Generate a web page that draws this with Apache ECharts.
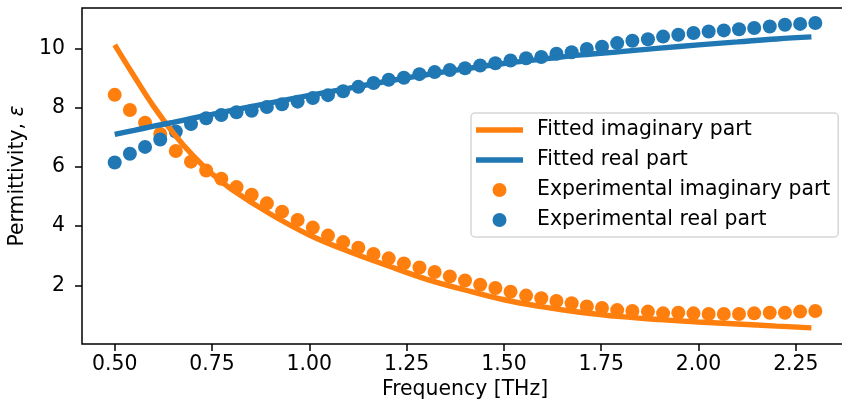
<!DOCTYPE html>
<html><head><meta charset="utf-8">
<script src="https://cdn.jsdelivr.net/npm/echarts@6/dist/echarts.min.js"></script>
<style>html,body{margin:0;padding:0;background:#fff}#c{width:842px;height:405px}</style>
</head><body><div id="c"></div>
<script>
// Experimental data (frequency in THz)
const freq = [0.500,0.539,0.578,0.617,0.657,0.696,0.735,0.774,0.813,0.852,0.891,0.930,0.970,1.009,1.048,1.087,1.126,1.165,1.204,1.243,1.283,1.322,1.361,1.400,1.439,1.478,1.517,1.557,1.596,1.635,1.674,1.713,1.752,1.791,1.830,1.870,1.909,1.948,1.987,2.026,2.065,2.104,2.143,2.183,2.222,2.261,2.300];
const expImag = [8.44,7.93,7.50,7.12,6.54,6.18,5.88,5.60,5.32,5.06,4.77,4.49,4.21,3.95,3.68,3.46,3.27,3.06,2.91,2.74,2.60,2.45,2.30,2.16,2.02,1.91,1.78,1.65,1.56,1.47,1.39,1.28,1.23,1.16,1.13,1.11,1.05,1.07,1.05,1.03,1.03,1.03,1.05,1.07,1.07,1.11,1.13];
const expReal = [6.15,6.45,6.68,6.93,7.20,7.45,7.65,7.76,7.85,7.90,8.03,8.12,8.21,8.33,8.43,8.56,8.71,8.84,8.95,9.02,9.14,9.21,9.28,9.34,9.43,9.51,9.60,9.68,9.72,9.83,9.88,9.99,10.07,10.19,10.27,10.32,10.41,10.47,10.53,10.58,10.62,10.66,10.70,10.75,10.81,10.84,10.87];
// Fitted model curves
const fitFreq = [0.50,0.55,0.60,0.65,0.70,0.75,0.80,0.90,1.00,1.10,1.20,1.30,1.40,1.50,1.60,1.70,1.80,1.90,2.00,2.10,2.20,2.29];
const fitImag = [10.13,9.07,8.05,7.16,6.40,5.77,5.25,4.41,3.70,3.15,2.67,2.21,1.84,1.51,1.27,1.08,0.94,0.84,0.76,0.69,0.62,0.56];
const fitReal = [7.10,7.24,7.38,7.51,7.65,7.78,7.91,8.17,8.42,8.66,8.90,9.12,9.32,9.50,9.65,9.79,9.90,10.02,10.13,10.23,10.33,10.40];
const xTicks = [0.50,0.75,1.00,1.25,1.50,1.75,2.00,2.25];
const yTicks = [2,4,6,8,10];

const ORANGE = '#ff7f0e', BLUE = '#1f77b4';
const FONT = 'DejaVu Sans';
const FS = 20.4;
const zip = (a, b) => a.map((v, i) => [v, b[i]]);
const LINE_ICON = 'path://M0,0L47,0L47,5.4L0,5.4Z';

const chart = echarts.init(document.getElementById('c'), null, {renderer: 'canvas'});
chart.setOption({
  animation: false,
  backgroundColor: '#fff',
  textStyle: {fontFamily: FONT},
  grid: {left: 82, top: 8, width: 766, height: 336, outerBoundsMode: 'none', containLabel: false, show: true, borderColor: '#000', borderWidth: 1.5, backgroundColor: 'transparent'},
  xAxis: {
    type: 'value', min: 0.416, max: 2.384,
    name: 'Frequency [THz]', nameLocation: 'middle', nameGap: 35,
    nameTextStyle: {fontFamily: FONT, fontSize: FS, color: '#000'},
    axisLine: {show: false},
    splitLine: {show: false},
    axisTick: {show: true, length: 7, customValues: xTicks, lineStyle: {color: '#000', width: 1.5}},
    axisLabel: {customValues: xTicks, margin: 11, fontFamily: FONT, fontSize: FS, color: '#000', formatter: v => v.toFixed(2)}
  },
  yAxis: {
    type: 'value', min: 0.014, max: 11.377,
    name: 'Permittivity, {i|\u03B5}', nameLocation: 'middle', nameGap: 50, nameRotate: 90,
    nameTextStyle: {fontFamily: FONT, fontSize: FS, color: '#000', rich: {i: {fontFamily: FONT, fontSize: FS, fontStyle: 'italic', color: '#000'}}},
    axisLine: {show: false},
    splitLine: {show: false},
    axisTick: {show: true, length: 7, customValues: yTicks, lineStyle: {color: '#000', width: 1.5}},
    axisLabel: {customValues: yTicks, margin: 17, fontFamily: FONT, fontSize: FS, color: '#000', formatter: v => String(v)}
  },
  legend: {
    orient: 'vertical', left: 471, top: 113, align: 'left',
    padding: [7, 8, 7, 5],
    itemWidth: 47, itemHeight: 14, itemGap: 10,
    symbolKeepAspect: true,
    backgroundColor: 'rgba(255,255,255,0.8)', borderColor: '#d6d6d6', borderWidth: 1.5, borderRadius: 4,
    textStyle: {fontFamily: FONT, fontSize: FS, color: '#000', lineHeight: 20, padding: [0, 0, 0, 9]},
    data: [
      {name: 'Fitted imaginary part', icon: LINE_ICON, itemStyle: {color: ORANGE}},
      {name: 'Fitted real part', icon: LINE_ICON, itemStyle: {color: BLUE}},
      {name: 'Experimental imaginary part', icon: 'circle'},
      {name: 'Experimental real part', icon: 'circle'}
    ]
  },
  series: [
    {name: 'Experimental imaginary part', type: 'scatter', data: zip(freq, expImag), symbol: 'circle', symbolSize: 14, itemStyle: {color: ORANGE, opacity: 1}},
    {name: 'Experimental real part', type: 'scatter', data: zip(freq, expReal), symbol: 'circle', symbolSize: 14, itemStyle: {color: BLUE, opacity: 1}},
    {name: 'Fitted imaginary part', type: 'line', data: zip(fitFreq, fitImag), smooth: 0.4, showSymbol: false, symbol: 'none', itemStyle: {color: ORANGE}, lineStyle: {color: ORANGE, width: 5.4}},
    {name: 'Fitted real part', type: 'line', data: zip(fitFreq, fitReal), smooth: 0.4, showSymbol: false, symbol: 'none', itemStyle: {color: BLUE}, lineStyle: {color: BLUE, width: 5.4}}
  ]
});
</script></body></html>
